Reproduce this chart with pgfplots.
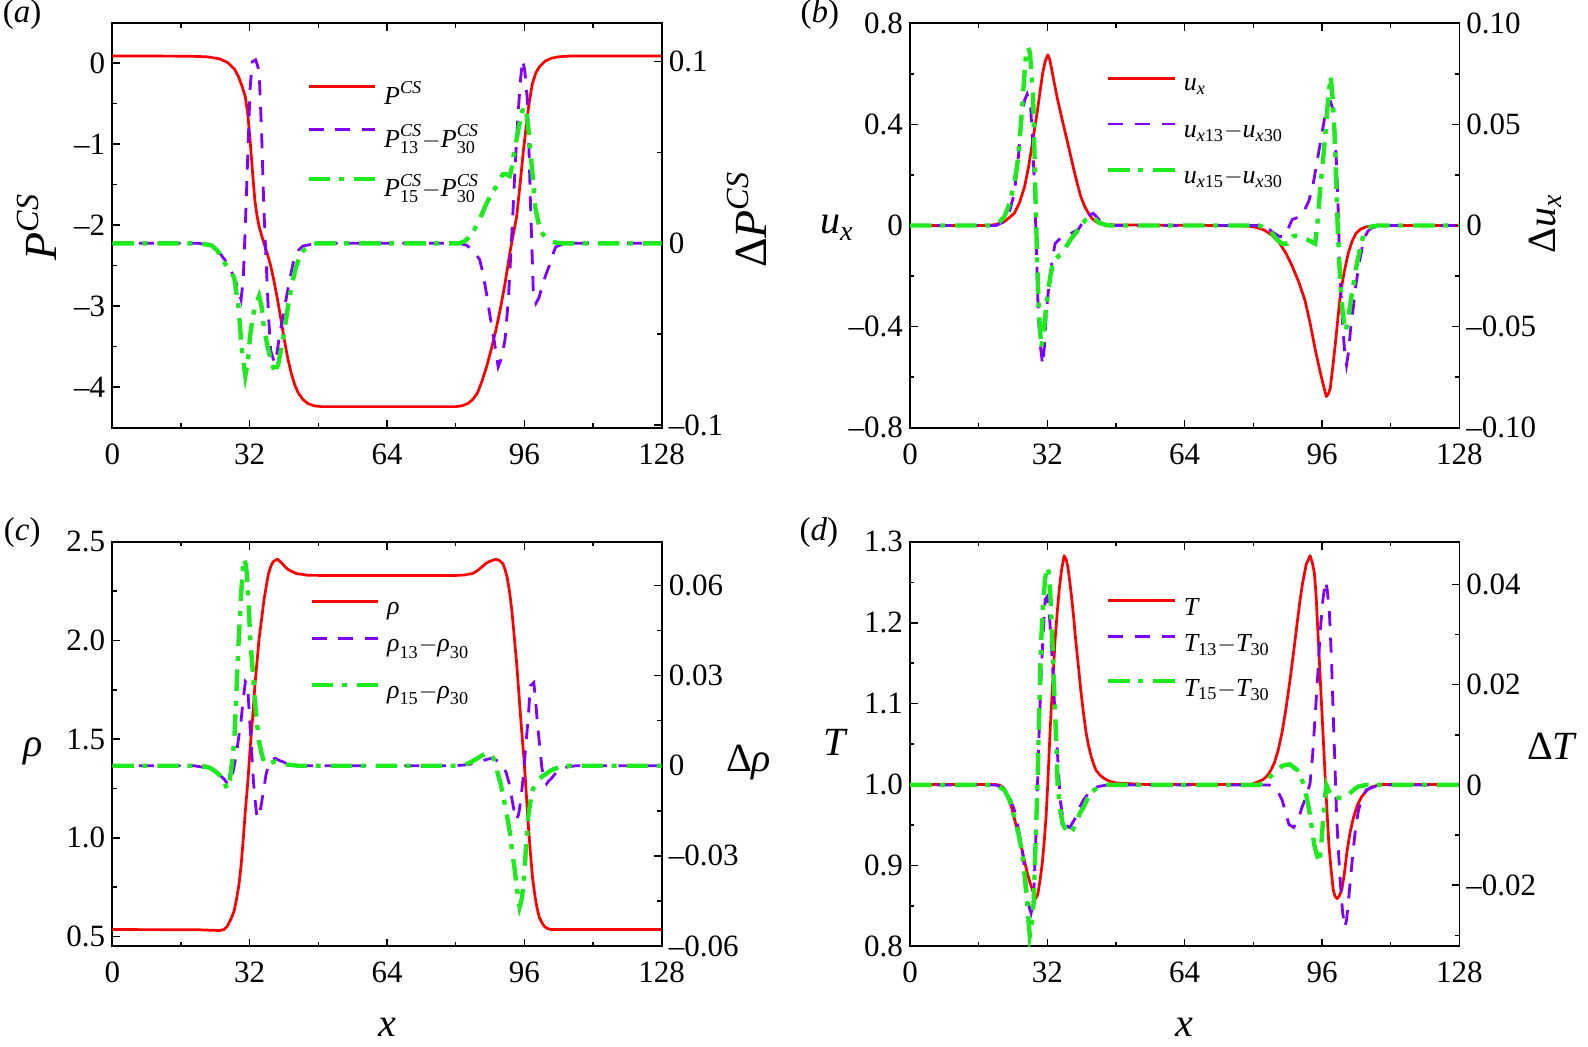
\documentclass[border=0pt]{standalone}
\usepackage{fontspec}
\setmainfont{Liberation Serif}
\usepackage{amsmath}
\usepackage{pgfplots}
\pgfplotsset{compat=1.18}
\definecolor{cred}{RGB}{255,0,0}
\definecolor{cpur}{RGB}{127,0,255}
\definecolor{cgrn}{RGB}{30,235,30}
\newcommand\tickfont{\fontsize{15.5}{18}\selectfont}
\newcommand\labfont{\fontsize{20}{24}\selectfont}
\newcommand\biglabfont{\fontsize{23}{27}\selectfont}
\newcommand\legfont{\fontsize{13}{16}\selectfont}
\newcommand\panfont{\fontsize{16.5}{19}\selectfont}
\newcommand\mi{\textendash}
\pgfplotsset{
  lgs/.style 2 args={legend image code/.code={\draw[##1] (0pt,4pt) -- (33.3pt,4pt); \path[draw=none,fill=none] (0pt,-#2) -- (0pt,#1);}},
  pbase/.style={scale only axis, width=274.7pt, height=202.2pt,
    xmin=0, xmax=128, anchor=south west, scaled y ticks=false,
    axis line style={line width=0.85pt},
    every tick/.style={black, line width=0.75pt},
    major tick length=3.9pt, minor tick length=2.2pt,
    tick align=inside,
    every tick label/.append style={font=\tickfont},
    label style={font=\labfont},
    title style={font=\panfont, yshift=0pt},
  },
  leftax/.style={pbase, xtick={0,32,64,96,128}, xticklabels={0,32,64,96,128},
    minor xtick={16,48,80,112}, xtick pos=both, xticklabel pos=lower,
    ytick pos=left, xticklabel style={yshift=-4.5pt}},
  rightax/.style={pbase, axis x line=none, axis y line*=right,
    legend cell align=left,
    legend style={draw=none, fill=none, inner sep=0pt, outer sep=0pt,
      row sep=0pt, column sep=3.3pt, font=\legfont, anchor=north west,
      nodes={inner sep=0pt, outer sep=0pt}}},
  redl/.style={cred, line width=1.35pt, line join=round},
  purl/.style={cpur, line width=1.4pt, dash pattern=on 7.5pt off 5.8pt},
  grnl/.style={cgrn, line width=2.2pt, dash pattern=on 10.8pt off 4.2pt on 2.5pt off 5pt},
}
\begin{document}
\begin{tikzpicture}
% ---------------- (a)
\begin{axis}[leftax, at={(56.15pt,-213.85pt)}, ymin=-4.5, ymax=0.488,
  ytick={0,-1,-2,-3,-4}, yticklabels={0,\mi1,\mi2,\mi3,\mi4},
  minor ytick={0.5,-0.5,-1.5,-2.5,-3.5},
  ylabel={$\textit{P}^{\textit{CS}}$},
  ylabel style={at={(axis description cs:-0.137,0.496)}, anchor=center, font=\biglabfont},
  title={(\textit{a})}, title style={at={(axis description cs:-0.164,0.991)}, anchor=center}]
\addplot[redl] coordinates {(0,0.084) (10,0.084) (18,0.082) (22,0.075) (25,0.05) (27,0.0) (28.5,-0.08) (29.4,-0.17) (30.3,-0.3) (31,-0.42) (31.6,-0.65) (32.1,-0.95) (32.6,-1.3) (33.2,-1.69) (33.7,-1.88) (34.2,-2.02) (35.3,-2.22) (36.1,-2.35) (36.9,-2.5) (37.7,-2.7) (38.5,-2.92) (39.3,-3.17) (40.1,-3.42) (40.9,-3.65) (41.7,-3.83) (42.5,-3.97) (43.3,-4.07) (44.4,-4.15) (45.5,-4.2) (47,-4.23) (48.7,-4.24) (80,-4.24) (81.5,-4.23) (82.9,-4.2) (84,-4.15) (85.1,-4.07) (86.1,-3.93) (87.2,-3.75) (88.3,-3.53) (89.4,-3.29) (90.5,-3.01) (91.5,-2.72) (92.6,-2.35) (93.4,-2.12) (94.2,-1.9) (95,-1.5) (95.8,-1.07) (96.4,-0.8) (96.9,-0.58) (97.4,-0.4) (97.9,-0.25) (98.7,-0.12) (99.5,-0.05) (100.8,0.02) (102.2,0.056) (104,0.075) (106.5,0.084) (128,0.084)};
\end{axis}
\begin{axis}[rightax, at={(56.15pt,-213.85pt)}, ymin=-0.1015, ymax=0.1211,
  ytick={-0.1,0,0.1}, yticklabels={\mi0.1,0,0.1}, minor ytick={-0.05,0.05},
  ylabel={$\text{Δ}\textit{P}^{\textit{CS}}$},
  ylabel style={at={(axis description cs:1.155,0.514)}, anchor=center, font=\biglabfont},
  legend style={at={(0.3535,0.8828)}}]
\addlegendimage{redl, lgs={12pt}{9.3pt}}
\addlegendentry{$\textit{P}^{\textit{CS}}$}
\addplot[purl, lgs={12pt}{12.85pt}] coordinates {(0,0) (20,0) (23,-0.001) (25.1,-0.0055) (27.3,-0.0128) (28.9,-0.022) (30,-0.031) (30.5,-0.02) (31,0.01) (31.6,0.051) (32.1,0.085) (32.6,0.1) (33.4,0.101) (34.2,0.095) (34.8,0.06) (35.3,0.02) (35.9,-0.013) (36.4,-0.04) (36.9,-0.059) (37.8,-0.066) (38.4,-0.06) (39,-0.05) (39.8,-0.04) (40.7,-0.028) (41.5,-0.018) (42.3,-0.009) (43.3,-0.004) (44.4,-0.0015) (46.6,-0.0005) (48,0) (80.8,0) (82.5,-0.001) (84,-0.0037) (85.6,-0.009) (86.4,-0.017) (87.2,-0.028) (88,-0.04) (88.8,-0.051) (89.9,-0.068) (90.7,-0.063) (91.5,-0.053) (92.3,-0.03) (93.1,0.0055) (93.8,0.04) (94.5,0.07) (95.1,0.09) (95.6,0.101) (96.1,0.095) (96.7,0.079) (97.1,0.05) (97.4,0.024) (97.8,-0.005) (98.1,-0.028) (98.7,-0.033) (99.4,-0.03) (100.1,-0.024) (100.9,-0.018) (101.7,-0.013) (102.5,-0.007) (103.3,-0.002) (105.4,0) (128,0)};
\addlegendentry{$\textit{P}^{\textit{CS}}_{\text{13}}{-}\textit{P}^{\textit{CS}}_{\text{30}}$}
\addplot[grnl, lgs={12pt}{6pt}] coordinates {(0,0) (20,0) (23,-0.001) (24.5,-0.004) (26.2,-0.011) (27.5,-0.015) (28.4,-0.019) (29.4,-0.035) (30.2,-0.059) (31,-0.073) (31.6,-0.065) (32.1,-0.051) (32.7,-0.041) (33.2,-0.035) (34.2,-0.029) (34.8,-0.035) (35.3,-0.046) (36.1,-0.056) (36.9,-0.064) (38,-0.072) (38.8,-0.065) (39.6,-0.055) (40.4,-0.043) (41.2,-0.031) (42,-0.021) (42.8,-0.013) (43.9,-0.006) (44.95,-0.0028) (46,-0.001) (47.6,0) (80.8,0) (82,0.001) (82.9,0.0028) (84,0.006) (85.1,0.011) (86.1,0.016) (87.2,0.022) (88.3,0.027) (89.4,0.031) (90.2,0.035) (91,0.038) (91.8,0.038) (92.6,0.037) (93.1,0.042) (93.6,0.05) (94.4,0.06) (95.2,0.07) (95.8,0.075) (96.3,0.075) (96.9,0.064) (97.4,0.051) (98,0.035) (98.5,0.02) (99.5,0.009) (100.3,0.005) (101.2,0.003) (102,0.0015) (103.3,0.0004) (105,0) (128,0)};
\addlegendentry{$\textit{P}^{\textit{CS}}_{\text{15}}{-}\textit{P}^{\textit{CS}}_{\text{30}}$}
\end{axis}
% ---------------- (b)
\begin{axis}[leftax, at={(455pt,-213.85pt)}, ymin=-0.8, ymax=0.8,
  ytick={-0.8,-0.4,0,0.4,0.8}, yticklabels={\mi0.8,\mi0.4,0,0.4,0.8},
  minor ytick={-0.6,-0.2,0.2,0.6},
  ylabel={$\textit{u}_{\textit{x}}$},
  ylabel style={at={(axis description cs:-0.133,0.494)}, anchor=center, rotate=-90},
  title={(\textit{b})}, title style={at={(axis description cs:-0.164,0.991)}, anchor=center}]
\addplot[redl] coordinates {(0,0) (18,0) (20,0.004) (22,0.015) (24.3,0.048) (25.5,0.09) (26.7,0.154) (27.6,0.23) (28.5,0.325) (29.1,0.39) (29.7,0.457) (30.3,0.53) (30.9,0.602) (31.5,0.65) (32.1,0.675) (32.5,0.66) (32.9,0.628) (33.6,0.565) (34.4,0.497) (35.3,0.43) (36.2,0.365) (37.1,0.3) (38,0.233) (38.9,0.17) (39.8,0.114) (40.7,0.075) (41.6,0.048) (42.4,0.028) (43.3,0.015) (44.5,0.008) (45.7,0.004) (48,0.002) (60,0.001) (75,0) (79,-0.003) (80.8,-0.008) (82.5,-0.018) (84.3,-0.038) (86.1,-0.07) (87.6,-0.11) (89.1,-0.163) (90.6,-0.225) (92,-0.295) (93.2,-0.385) (94.4,-0.49) (95.3,-0.56) (96.2,-0.625) (97,-0.677) (97.5,-0.665) (97.9,-0.645) (98.5,-0.56) (99.1,-0.466) (99.7,-0.365) (100.3,-0.268) (101.2,-0.18) (102.1,-0.11) (103,-0.062) (103.9,-0.031) (105,-0.014) (106.3,-0.005) (108.6,-0.001) (110,0) (128,0)};
\end{axis}
\begin{axis}[rightax, at={(455pt,-213.85pt)}, ymin=-0.1, ymax=0.1,
  ytick={-0.1,-0.05,0,0.05,0.1}, yticklabels={\mi0.10,\mi0.05,0,0.05,0.10},
  minor ytick={-0.075,-0.025,0.025,0.075},
  ylabel={$\text{Δ}\textit{u}_{\textit{x}}$},
  ylabel style={at={(axis description cs:1.157,0.504)}, anchor=center},
  legend style={at={(0.357,0.9036)}}]
\addlegendimage{redl, lgs={12pt}{10.85pt}}
\addlegendentry{$\textit{u}_{\textit{x}}$}
\addplot[purl, lgs={12pt}{11pt}] coordinates {(0,0) (20,0) (22,0.002) (23.2,0.007) (24.3,0.016) (25.2,0.033) (26.1,0.054) (26.7,0.062) (27.3,0.065) (28.1,0.059) (28.6,0.04) (29.1,0.013) (29.5,-0.015) (29.9,-0.045) (30.4,-0.06) (30.9,-0.069) (31.3,-0.06) (31.7,-0.045) (32.2,-0.033) (32.7,-0.024) (33.2,-0.016) (33.8,-0.009) (34.7,-0.007) (35.6,-0.0055) (37.4,-0.004) (39.2,-0.002) (40.1,0.001) (41,0.0044) (42.7,0.006) (43.6,0.004) (44.5,0.0015) (46.3,0.0002) (48,0) (81.3,0) (82.5,-0.0008) (83.7,-0.002) (85,-0.004) (86.1,-0.0055) (87,-0.0055) (87.9,-0.003) (88.5,0.0005) (89.1,0.003) (90.8,0.0044) (92,0.008) (92.9,0.012) (93.8,0.019) (94.7,0.03) (95.6,0.041) (96.5,0.052) (97.4,0.06) (98,0.061) (98.6,0.057) (99,0.045) (99.4,0.029) (99.8,0.005) (100.1,-0.02) (100.5,-0.038) (100.9,-0.053) (101.3,-0.063) (101.7,-0.069) (102.2,-0.062) (102.7,-0.05) (103.3,-0.04) (103.9,-0.029) (104.8,-0.017) (105.7,-0.007) (106.6,-0.003) (107.5,-0.0012) (109.8,0) (128,0)};
\addlegendentry{$\textit{u}_{\textit{x}\text{13}}{-}\textit{u}_{\textit{x}\text{30}}$}
\addplot[grnl, lgs={12pt}{6pt}] coordinates {(0,0) (19.6,0) (21,0.002) (22,0.0044) (23.2,0.011) (24.3,0.021) (25,0.03) (25.5,0.041) (26,0.055) (26.5,0.07) (27.1,0.087) (27.5,0.088) (27.9,0.086) (28.3,0.076) (28.7,0.062) (29,0.035) (29.3,0.008) (29.6,-0.015) (29.9,-0.037) (30.3,-0.052) (30.6,-0.06) (31,-0.055) (31.5,-0.045) (32.1,-0.034) (32.7,-0.025) (33.2,-0.02) (33.8,-0.017) (34.7,-0.015) (35.6,-0.014) (36.5,-0.01) (37.4,-0.007) (38.3,-0.0045) (39.2,-0.002) (40.1,0.0005) (41,0.003) (42.7,0.0044) (43.3,0.003) (43.9,0.0015) (45.7,0.0002) (47,0) (81.3,0) (82.5,-0.001) (83.7,-0.002) (85.5,-0.007) (86.7,-0.009) (87.9,-0.009) (89.1,-0.0055) (90,-0.005) (90.8,-0.0055) (92.6,-0.007) (93.5,-0.008) (94.4,-0.009) (95,0.003) (95.6,0.019) (96.2,0.032) (96.8,0.046) (97.4,0.062) (98,0.074) (98.5,0.062) (98.9,0.046) (99.3,0.02) (99.7,-0.004) (100.1,-0.022) (100.5,-0.037) (101,-0.046) (101.5,-0.052) (102.1,-0.046) (102.7,-0.037) (103.4,-0.028) (104.1,-0.019) (104.9,-0.011) (105.7,-0.004) (106.6,-0.0015) (107.5,-0.0005) (109,0) (128,0)};
\addlegendentry{$\textit{u}_{\textit{x}\text{15}}{-}\textit{u}_{\textit{x}\text{30}}$}
\end{axis}
% ---------------- (c)
\begin{axis}[leftax, at={(56.15pt,-473.15pt)}, ymin=0.45, ymax=2.5,
  ytick={0.5,1,1.5,2,2.5}, yticklabels={0.5,1.0,1.5,2.0,2.5},
  minor ytick={0.75,1.25,1.75,2.25},
  ylabel={\textit{ρ}},
  ylabel style={at={(axis description cs:-0.144,0.482)}, anchor=center, rotate=-90},
  xlabel={\textit{x}}, xlabel style={at={(axis description cs:0.5,-0.1996)}, anchor=center},
  title={(\textit{c})}, title style={at={(axis description cs:-0.164,0.994)}, anchor=center}]
\addplot[redl] coordinates {(0,0.535) (20,0.534) (25,0.53) (26,0.535) (26.8,0.552) (27.8,0.596) (28.4,0.63) (28.9,0.684) (29.5,0.76) (30,0.858) (30.5,0.99) (31,1.137) (31.6,1.29) (32.1,1.45) (32.7,1.61) (33.2,1.765) (33.7,1.89) (34.2,2.009) (34.8,2.11) (35.3,2.2) (35.9,2.28) (36.4,2.34) (37,2.38) (37.5,2.40) (38.5,2.413) (39.6,2.39) (40.4,2.37) (41.2,2.357) (42.8,2.34) (45.5,2.331) (48.7,2.33) (80,2.33) (81.9,2.332) (84,2.34) (85.1,2.355) (86.2,2.375) (87,2.39) (87.8,2.40) (89.4,2.413) (90.2,2.405) (91,2.39) (91.5,2.36) (92,2.32) (92.6,2.24) (93.1,2.15) (93.6,2.03) (94.2,1.887) (94.7,1.74) (95.2,1.59) (95.8,1.43) (96.3,1.277) (96.8,1.1) (97.4,0.927) (97.9,0.8) (98.5,0.7) (99,0.64) (99.5,0.596) (100.1,0.57) (100.6,0.552) (101.4,0.54) (102.2,0.535) (128,0.535)};
\end{axis}
\begin{axis}[rightax, at={(56.15pt,-473.15pt)}, ymin=-0.0601, ymax=0.0745,
  ytick={-0.06,-0.03,0,0.03,0.06}, yticklabels={\mi0.06,\mi0.03,0,0.03,0.06},
  minor ytick={-0.045,-0.015,0.015,0.045},
  ylabel={Δ\textit{ρ}},
  ylabel style={at={(axis description cs:1.158,0.455)}, anchor=center, rotate=-90},
  legend style={at={(0.359,0.8922)}}]
\addlegendimage{redl, lgs={12pt}{6.35pt}}
\addlegendentry{\textit{ρ}}
\addplot[purl, lgs={12pt}{11.3pt}] coordinates {(0,0) (19,0) (23,-0.0009) (25.1,-0.0032) (26.1,-0.0045) (26.8,-0.006) (27.3,-0.0055) (27.8,-0.0045) (28.4,0) (28.9,0.0037) (29.4,0.009) (30,0.015) (30.5,0.022) (31,0.028) (31.3,0.0275) (31.6,0.025) (32.1,0.013) (32.5,0.004) (32.9,-0.0055) (33.3,-0.012) (33.7,-0.017) (34.2,-0.0172) (34.7,-0.013) (35.3,-0.0078) (35.8,-0.003) (36.4,0.0002) (37.2,0.002) (38,0.0025) (38.8,0.0018) (39.6,0.0014) (41,0.0005) (42.3,0.0002) (44,0) (80,0) (83,0.0004) (85.1,0.0011) (87,0.002) (88.4,0.0025) (89.2,0.002) (90,0.0014) (90.8,-0.0002) (91.7,-0.002) (92.4,-0.0055) (93.1,-0.011) (93.6,-0.015) (94.2,-0.018) (94.7,-0.016) (95.2,-0.011) (95.8,-0.003) (96.3,0.006) (96.9,0.016) (97.4,0.0266) (98.2,0.0277) (98.6,0.022) (99,0.015) (99.5,0.0075) (100.1,-0.0009) (100.6,-0.004) (101.2,-0.006) (101.7,-0.005) (102.2,-0.0044) (103,-0.003) (103.8,-0.0015) (105,-0.0007) (106.5,-0.0003) (108,0) (128,0)};
\addlegendentry{$\textit{ρ}_{\text{13}}{-}\textit{ρ}_{\text{30}}$}
\addplot[grnl, lgs={12pt}{6pt}] coordinates {(0,0) (18.7,0) (21.9,-0.0003) (23,-0.0009) (24.1,-0.002) (24.9,-0.003) (25.7,-0.0044) (26.3,-0.0062) (26.8,-0.0078) (27.3,-0.0055) (27.8,0) (28.4,0.008) (28.8,0.02) (29.2,0.035) (29.6,0.046) (30,0.057) (30.4,0.065) (30.7,0.069) (31.1,0.067) (31.4,0.063) (31.8,0.053) (32.1,0.043) (32.7,0.032) (33.2,0.022) (33.7,0.014) (34.2,0.008) (34.8,0.004) (35.3,0.0014) (36.4,0.0008) (38,0.0014) (40.1,0.0005) (43.3,0) (80.8,0) (83,0.0008) (85.1,0.0025) (86.2,0.0035) (87.2,0.004) (88,0.0035) (88.8,0.0025) (89.6,-0.0015) (90.4,-0.0055) (91.2,-0.011) (92,-0.017) (92.6,-0.022) (93.1,-0.028) (93.7,-0.034) (94.2,-0.04) (94.9,-0.047) (95.3,-0.045) (95.8,-0.04) (96.3,-0.029) (96.9,-0.017) (97.4,-0.012) (98,-0.0078) (98.7,-0.0058) (99.5,-0.0044) (100.3,-0.0034) (101.2,-0.0026) (102.2,-0.0015) (103.3,-0.0009) (104.9,-0.0003) (106.5,0) (128,0)};
\addlegendentry{$\textit{ρ}_{\text{15}}{-}\textit{ρ}_{\text{30}}$}
\end{axis}
% ---------------- (d)
\begin{axis}[leftax, at={(455pt,-473.15pt)}, ymin=0.8, ymax=1.3,
  ytick={0.8,0.9,1.0,1.1,1.2,1.3}, yticklabels={0.8,0.9,1.0,1.1,1.2,1.3},
  minor ytick={0.85,0.95,1.05,1.15,1.25},
  ylabel={\textit{T}},
  ylabel style={at={(axis description cs:-0.135,0.505)}, anchor=center, rotate=-90},
  xlabel={\textit{x}}, xlabel style={at={(axis description cs:0.5,-0.1996)}, anchor=center},
  title={(\textit{d})}, title style={at={(axis description cs:-0.166,0.994)}, anchor=center}]
\addplot[redl] coordinates {(0,1.0) (20,1.0) (21,0.999) (22,0.995) (22.8,0.985) (23.7,0.971) (24.6,0.952) (25.5,0.933) (26.4,0.912) (27.3,0.891) (28,0.878) (28.5,0.87) (29.3,0.859) (29.8,0.865) (30.3,0.882) (30.8,0.902) (31.2,0.925) (31.7,0.96) (32.1,1.001) (32.5,1.05) (32.9,1.094) (33.4,1.14) (33.8,1.179) (34.3,1.213) (34.8,1.243) (35.3,1.265) (35.9,1.283) (36.4,1.278) (36.8,1.268) (37.2,1.252) (37.6,1.234) (38.1,1.208) (38.6,1.179) (39.2,1.148) (39.8,1.116) (40.4,1.089) (41,1.065) (41.6,1.048) (42.2,1.035) (42.8,1.025) (43.3,1.018) (44.2,1.012) (45.1,1.008) (46.5,1.004) (48.1,1.002) (55,1.0) (79,1.0) (80,1.001) (81.3,1.004) (82.2,1.006) (83.1,1.01) (84,1.017) (84.9,1.027) (85.8,1.043) (86.7,1.065) (87.6,1.094) (88.5,1.128) (89.4,1.165) (90.2,1.2) (90.8,1.225) (91.4,1.247) (92.3,1.272) (93.2,1.283) (93.7,1.275) (94.2,1.262) (94.6,1.235) (95,1.192) (95.4,1.15) (95.8,1.107) (96.3,1.055) (96.8,1.001) (97.2,0.962) (97.6,0.925) (98.1,0.895) (98.6,0.87) (99,0.862) (99.5,0.859) (100,0.862) (100.6,0.87) (101.2,0.89) (101.8,0.917) (102.5,0.94) (103.3,0.959) (104.2,0.974) (105.1,0.984) (106.3,0.992) (107.5,0.997) (109.8,1.0) (128,1.0)};
\end{axis}
\begin{axis}[rightax, at={(455pt,-473.15pt)}, ymin=-0.0322, ymax=0.0485,
  ytick={-0.02,0,0.02,0.04}, yticklabels={\mi0.02,0,0.02,0.04},
  minor ytick={-0.03,-0.01,0.01,0.03},
  ylabel={Δ\textit{T}},
  ylabel style={at={(axis description cs:1.169,0.495)}, anchor=center, rotate=-90},
  legend style={at={(0.357,0.8949)}}]
\addlegendimage{redl, lgs={12pt}{6.1pt}}
\addlegendentry{\textit{T}}
\addplot[purl, lgs={12pt}{10.3pt}] coordinates {(0,0) (20,0) (22,-0.0007) (23.2,-0.0025) (24.3,-0.005) (25.2,-0.0085) (26.1,-0.0126) (26.7,-0.017) (27.3,-0.0215) (27.8,-0.0245) (28.2,-0.0256) (28.6,-0.024) (28.9,-0.02) (29.3,-0.011) (29.7,0) (30.1,0.011) (30.5,0.021) (31,0.03) (31.5,0.037) (31.9,0.0375) (32.3,0.036) (32.7,0.031) (33.2,0.024) (33.6,0.017) (34.1,0.0106) (34.5,0.004) (35,-0.003) (35.5,-0.006) (36,-0.0079) (37.2,-0.0085) (38.6,-0.0065) (39.5,-0.0045) (40.4,-0.003) (42.2,-0.001) (43.9,-0.0003) (46,0) (83.7,0) (84.6,-0.0005) (85.5,-0.001) (86.1,-0.002) (86.7,-0.003) (87.5,-0.0055) (88.3,-0.0079) (89.4,-0.0085) (90.6,-0.0065) (91.3,-0.0045) (92,-0.003) (92.6,-0.0015) (93.2,0.0003) (93.8,0.006) (94.4,0.014) (95,0.022) (95.6,0.031) (96.2,0.037) (96.8,0.0407) (97.2,0.039) (97.7,0.0345) (98.2,0.025) (98.6,0.014) (99,0.004) (99.4,-0.0065) (99.8,-0.013) (100.3,-0.02) (100.8,-0.0255) (101.3,-0.0284) (101.7,-0.027) (102.1,-0.0236) (102.7,-0.018) (103.3,-0.0126) (103.9,-0.008) (104.5,-0.005) (105.4,-0.0025) (106.3,-0.001) (108.6,-0.0002) (110,0) (128,0)};
\addlegendentry{$\textit{T}_{\text{13}}{-}\textit{T}_{\text{30}}$}
\addplot[grnl, lgs={12pt}{6pt}] coordinates {(0,0) (20,0) (22,-0.001) (23.2,-0.003) (24.3,-0.0065) (25.2,-0.0095) (26.1,-0.0133) (26.7,-0.018) (27.3,-0.0236) (27.9,-0.030) (28.3,-0.028) (28.8,-0.0236) (29.2,-0.013) (29.7,0) (30.1,0.015) (30.5,0.0277) (31,0.036) (31.5,0.0414) (32.1,0.0434) (32.4,0.042) (32.7,0.038) (33.1,0.03) (33.5,0.021) (34,0.01) (34.4,0) (35,-0.005) (35.6,-0.0079) (36.4,-0.009) (37.2,-0.0096) (37.9,-0.009) (38.6,-0.0079) (39.5,-0.0058) (40.4,-0.0045) (41.3,-0.0028) (42.2,-0.0014) (43.3,-0.0008) (44.5,-0.0005) (46,0) (81.3,0) (82.2,0.0004) (83.1,0.001) (84,0.0017) (84.9,0.0024) (85.8,0.0031) (86.7,0.0038) (87.6,0.004) (88.5,0.0041) (89.4,0.0035) (90.2,0.003) (91,0.0015) (91.8,0) (92.4,-0.0025) (93,-0.005) (93.6,-0.0085) (94.2,-0.012) (94.8,-0.014) (95.4,-0.0154) (95.8,-0.012) (96.2,-0.0075) (96.6,-0.003) (97,0) (97.5,-0.001) (98,-0.002) (98.6,-0.0023) (99.1,-0.0024) (100,-0.0026) (100.9,-0.0027) (101.8,-0.0023) (102.7,-0.0015) (103.6,-0.0008) (104.5,-0.0003) (106.3,0) (128,0)};
\addlegendentry{$\textit{T}_{\text{15}}{-}\textit{T}_{\text{30}}$}
\end{axis}
\pgfresetboundingbox
\path[use as bounding box] (0,0) rectangle (794pt,-523.5pt);
\end{tikzpicture}
\end{document}
